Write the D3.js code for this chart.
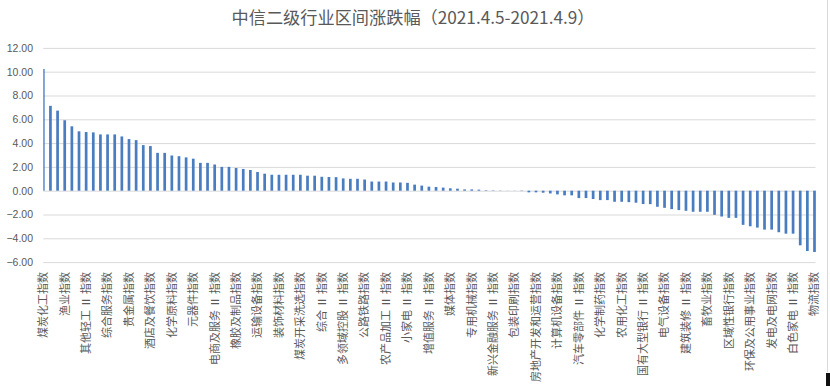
<!DOCTYPE html>
<html>
<head>
<meta charset="utf-8">
<script src="https://cdn.jsdelivr.net/npm/d3@7"></script>
<style>
  body { margin: 0; background: #fff; }
  svg { display: block; }
  text { font-family: "Noto Sans CJK SC", "Noto Sans", sans-serif; }
</style>
</head>
<body>
<script>
// chart data: CITIC level-2 industries, weekly change (%)
var categories = [
    "煤炭化工指数", "石油化工指数", "工业金属指数", "渔业指数", "稀有金属指数",
    "普钢指数", "其他轻工Ⅱ指数", "特材指数", "旅游及休闲指数", "综合服务指数",
    "其他钢铁指数", "化学纤维指数", "贵金属指数", "塑料及制品指数", "教育指数",
    "酒店及餐饮指数", "石油开采Ⅱ指数", "其他化学制品Ⅱ指数", "化学原料指数", "半导体指数",
    "纺织制造指数", "元器件指数", "光学光电指数", "玻璃指数", "电商及服务Ⅱ指数",
    "结构材料指数", "造纸Ⅱ指数", "橡胶及制品指数", "航运港口指数", "品牌服饰指数",
    "运输设备指数", "消费电子指数", "家居指数", "装饰材料指数", "通用设备指数",
    "专营连锁指数", "煤炭开采洗选指数", "资产管理Ⅱ指数", "其他电子零组件Ⅱ指数", "综合Ⅱ指数",
    "一般零售指数", "广告营销指数", "多领域控股Ⅱ指数", "贸易Ⅱ指数", "文化娱乐指数",
    "公路铁路指数", "油服工程指数", "仪器仪表Ⅱ指数", "农产品加工Ⅱ指数", "金属制品Ⅱ指数",
    "林业Ⅱ指数", "小家电Ⅱ指数", "建筑施工指数", "专业市场经营Ⅱ指数", "增值服务Ⅱ指数",
    "商用车指数", "文娱轻工Ⅱ指数", "媒体指数", "种植业指数", "饲料指数",
    "专用机械指数", "互联网媒体指数", "摩托车及其他Ⅱ指数", "新兴金融服务Ⅱ指数", "黑色家电Ⅱ指数",
    "证券Ⅱ指数", "包装印刷指数", "航空航天指数", "兵器兵装Ⅱ指数", "房地产开发和运营指数",
    "电信运营Ⅱ指数", "保险Ⅱ指数", "计算机设备指数", "其他军工Ⅱ指数", "通讯设备指数",
    "汽车零部件Ⅱ指数", "医药流通指数", "中成药指数", "化学制药指数", "计算机软件指数",
    "照明电工及其他指数", "农用化工指数", "房地产服务Ⅱ指数", "汽车销售及服务Ⅱ指数", "国有大型银行Ⅱ指数",
    "食品指数", "乘用车Ⅱ指数", "电气设备指数", "医疗服务指数", "建筑设计及服务Ⅱ指数",
    "建筑装修Ⅱ指数", "云服务指数", "全国性股份制银行Ⅱ指数", "畜牧业指数", "饮料指数",
    "航空机场指数", "区域性银行指数", "生物医药Ⅱ指数", "产业互联网指数", "环保及公用事业指数",
    "医疗器械指数", "水泥指数", "发电及电网指数", "电源设备指数", "酒类指数",
    "白色家电Ⅱ指数", "新能源动力系统指数", "多元金融指数", "物流指数"
];

var changes = [
    10.23, 7.13, 6.73, 5.92, 5.41,
    4.99, 4.93, 4.90, 4.73, 4.73,
    4.73, 4.56, 4.34, 4.25, 3.83,
    3.75, 3.18, 3.18, 2.96, 2.90,
    2.80, 2.69, 2.34, 2.34, 2.20,
    2.00, 2.00, 1.91, 1.83, 1.74,
    1.57, 1.43, 1.34, 1.34, 1.34,
    1.34, 1.34, 1.26, 1.26, 1.17,
    1.15, 1.14, 1.03, 1.00, 1.00,
    0.94, 0.77, 0.77, 0.77, 0.69,
    0.69, 0.66, 0.51, 0.43, 0.34,
    0.31, 0.26, 0.20, 0.17, 0.11,
    0.11, 0.09, 0.04, 0.03, 0.02,
    0.01, -0.01, -0.03, -0.14, -0.14,
    -0.17, -0.23, -0.31, -0.39, -0.39,
    -0.62, -0.62, -0.70, -0.79, -0.79,
    -0.93, -0.93, -0.96, -1.01, -1.12,
    -1.13, -1.35, -1.44, -1.55, -1.63,
    -1.69, -1.77, -1.77, -1.77, -2.03,
    -2.17, -2.28, -2.28, -2.87, -2.99,
    -3.10, -3.27, -3.27, -3.49, -3.61,
    -3.61, -4.59, -5.07, -5.15
];

var yTicks = [12, 10, 8, 6, 4, 2, 0, -2, -4, -6];
var titleText = "中信二级行业区间涨跌幅（2021.4.5-2021.4.9）";

var width = 830, height = 386;
var plot = {left: 43.3, right: 814.5, top: 47.9, bottom: 262.1};

var svg = d3.select("body").append("svg")
    .attr("width", width)
    .attr("height", height);

// chart border on the right side
svg.append("line")
    .attr("x1", 827.5).attr("x2", 827.5)
    .attr("y1", 0).attr("y2", 372)
    .style("stroke", "#d9d9d9");
svg.append("rect")
    .attr("x", 826).attr("y", 373)
    .attr("width", 4).attr("height", 13)
    .style("fill", "#111");

svg.append("text")
    .attr("x", 413)
    .attr("y", 24)
    .attr("text-anchor", "middle")
    .style("font-size", "17.2px")
    .style("fill", "#595959")
    .text(titleText);

var x = d3.scalePoint()
    .domain(d3.range(categories.length))
    .range([plot.left, plot.right]);

var y = d3.scaleLinear()
    .domain([-6, 12])
    .range([plot.bottom, plot.top]);

// gridlines + y labels
var yAxis = d3.axisLeft(y)
    .tickValues(yTicks)
    .tickSize(-(plot.right + 1 - plot.left))
    .tickPadding(10)
    .tickFormat(d3.format(".2f"));

var gy = svg.append("g")
    .attr("transform", "translate(" + plot.left + ",0)")
    .call(yAxis);
gy.select(".domain").remove();
gy.selectAll(".tick line")
    .style("stroke", "#d9d9d9")
    .style("stroke-width", 1);
gy.selectAll(".tick text")
    .attr("x", 33 - plot.left)
    .style("font-family", "'Liberation Sans', 'Noto Sans', sans-serif")
    .style("font-size", "10.5px")
    .style("fill", "#595959");

svg.append("clipPath")
    .attr("id", "plotclip")
    .append("rect")
    .attr("x", plot.left)
    .attr("y", 0)
    .attr("width", plot.right + 2 - plot.left)
    .attr("height", height);

var barW = 2.7;
svg.append("g")
    .attr("clip-path", "url(#plotclip)")
    .selectAll("rect")
    .data(changes)
    .enter()
    .append("rect")
    .attr("x", function(d, i) { return x(i) - barW / 2; })
    .attr("y", function(d) { return y(Math.max(0, d)); })
    .attr("width", barW)
    .attr("height", function(d) { return Math.abs(y(d) - y(0)); })
    .style("fill", "#4a7cc0");

// category labels, only every third one shows like the original
var labelTop = 272;
var labelSize = 11;

// the roman numeral sits wider in the original, pad it out
var probe = svg.append("text").style("font-size", labelSize + "px").text("Ⅱ");
var romanW = probe.node().getComputedTextLength();
probe.remove();
var romanPad = Math.max(0, (16 - romanW) / 2);

var labels = svg.append("g")
    .selectAll("text")
    .data(d3.range(categories.length).filter(function(i) { return i % 3 == 0; }))
    .enter()
    .append("text")
    .attr("transform", function(i) {
        return "translate(" + x(i) + "," + labelTop + ") rotate(-90)";
    })
    .attr("dy", "0.35em")
    .attr("text-anchor", "end")
    .style("font-size", labelSize + "px")
    .style("fill", "#595959");

labels.each(function(i) {
    var el = d3.select(this);
    var parts = categories[i].split("Ⅱ");
    parts.forEach(function(p, k) {
        if (k > 0) {
            el.append("tspan").attr("dx", romanPad).text("Ⅱ");
        }
        var t = el.append("tspan").text(p);
        if (k > 0) t.attr("dx", romanPad);
    });
});
</script>
</body>
</html>
